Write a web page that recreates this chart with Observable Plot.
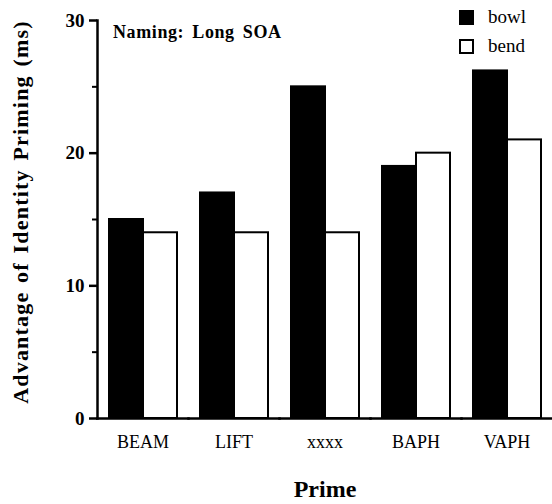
<!DOCTYPE html>
<html><head><meta charset="utf-8">
<script src="https://cdn.jsdelivr.net/npm/d3@7"></script>
<script src="https://cdn.jsdelivr.net/npm/@observablehq/plot@0.6"></script>
<style>
body{margin:0;background:#fff}
#chart{width:552px;height:504px}
svg{font-family:"Liberation Serif","Times New Roman",serif}
</style></head><body><div id="chart"></div>
<script>
const primes = ["BEAM","LIFT","xxxx","BAPH","VAPH"];
const words = ["bowl","bend"];
const bowl = [15,17,25,19,26.2];
const bend = [14,14,14,20,21];
const yTicks = [0,10,20,30];
const yMinorTicks = [5,15,25];
const title = "Naming: Long SOA";
const yLabel = "Advantage of Identity Priming (ms)";
const xLabel = "Prime";
const wordFill = ["black","white"];

const data = primes.flatMap((p,i)=>[
  {prime:p, word:"bowl", value:bowl[i]},
  {prime:p, word:"bend", value:bend[i]}
]);

const chart = Plot.plot({
  width:552, height:504, marginLeft:96, marginRight:0, marginTop:20, marginBottom:86,
  style:{fontFamily:'"Liberation Serif", serif', background:"white", color:"black"},
  fx:{domain:primes, padding:0},
  x:{domain:words, paddingInner:0, paddingOuter:0.318, axis:null},
  y:{domain:[0,30]},
  color:{domain:words, range:wordFill},
  marks:[
    Plot.barY(data,{fx:"prime", x:"word", y:"value", fill:"word", stroke:"black", strokeWidth:2}),
    Plot.frame({anchor:"bottom", strokeWidth:2.5}),
    Plot.frame({anchor:"left", facetAnchor:"left", strokeWidth:2.5}),
    Plot.axisY(yMinorTicks, {tickSize:5, strokeWidth:2, fill:"none", label:null}),
    Plot.axisY(yTicks, {tickSize:8, tickPadding:5, strokeWidth:2.5, fontSize:19, fontWeight:"bold", label:null}),
    Plot.axisFx({anchor:"bottom", tickSize:0, tickPadding:17, fontSize:18, label:xLabel, labelAnchor:"center", labelOffset:78})
  ]
});
document.getElementById("chart").appendChild(chart);

const svg = d3.select(chart);
svg.selectAll('g[aria-label="fx-axis label"]').attr("font-size",24).attr("font-weight","bold");
svg.selectAll('g[aria-label="fx-axis label"] text').attr("font-size",24).attr("font-weight","bold");

// title
svg.append("text").attr("x",113).attr("y",38).attr("text-anchor","start")
  .attr("font-size",18).attr("font-weight","bold").attr("letter-spacing",0.6)
  .attr("word-spacing",3).attr("fill","black").text(title);

// y title
svg.append("text").attr("transform","translate(28,212) rotate(-90)")
  .attr("text-anchor","middle").attr("font-size",22).attr("font-weight","bold")
  .attr("letter-spacing",1.2).attr("word-spacing",2).attr("fill","black").text(yLabel);

// legend
const lg = svg.append("g").attr("text-anchor","start");
words.forEach((w,i)=>{
  lg.append("rect").attr("x",460).attr("y",11+i*29).attr("width",13).attr("height",13)
    .attr("fill",wordFill[i]).attr("stroke","black").attr("stroke-width",2);
  lg.append("text").attr("x",488).attr("y",23+i*29).attr("font-size",19)
    .attr("fill","black").text(w);
});
</script></body></html>
